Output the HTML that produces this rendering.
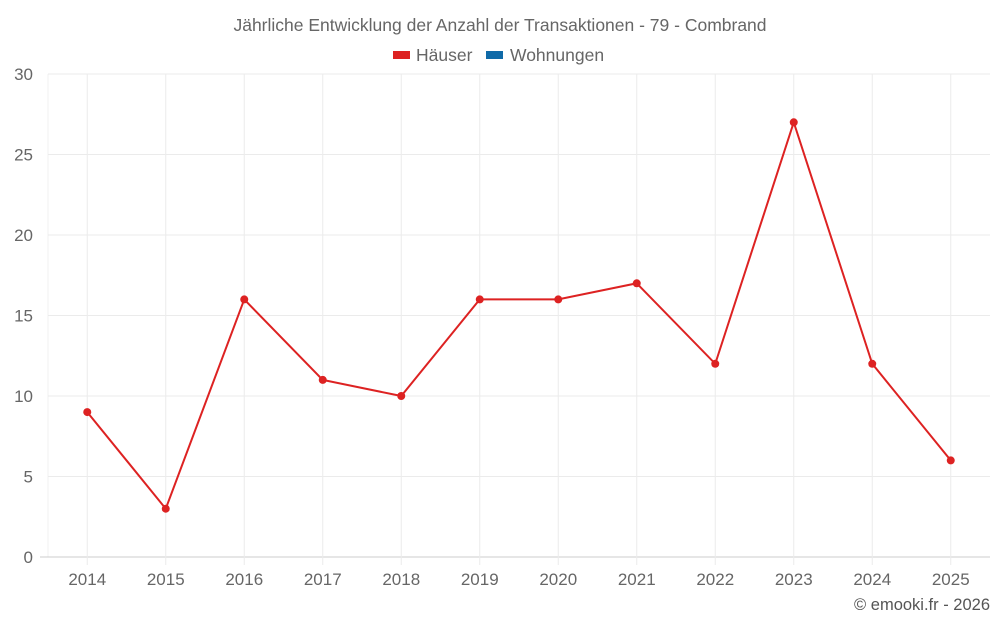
<!DOCTYPE html>
<html><head><meta charset="utf-8"><style>
body{margin:0;background:#fff;}
svg{display:block;font-family:"Liberation Sans",sans-serif;}
</style></head><body>
<svg id="c" width="1000" height="625">
<text x="500" y="31" text-anchor="middle" font-size="17.5" fill="#666">Jährliche Entwicklung der Anzahl der Transaktionen - 79 - Combrand</text>
<g>
<g><rect x="393" y="51" width="17" height="8" fill="#dd2222"/><text x="416" y="61" font-size="17.5" fill="#666">Häuser</text></g>
<g><rect x="486" y="51" width="17" height="8" fill="#0f6aa8"/><text x="510" y="61" font-size="17.5" fill="#666">Wohnungen</text></g>
</g>
<g id="grid"></g><g id="axes"></g><g id="marks"></g>
<text x="990" y="610" text-anchor="end" font-size="16.5" fill="#555">© emooki.fr - 2026</text>
</svg>
<script>
const categories=["2014","2015","2016","2017","2018","2019","2020","2021","2022","2023","2024","2025"];
const haeuser=[9,3,16,11,10,16,16,17,12,27,12,6];
const wohnungen=[];
const yTicks=[0,5,10,15,20,25,30];
const L=48,R=990,T=74,B=557,yMax=30;
const bw=(R-L)/categories.length;
const x=i=>L+bw*(i+0.5);
const y=v=>B-(v/yMax)*(B-T);
const ns="http://www.w3.org/2000/svg";
function mk(p,t,a){const e=document.createElementNS(ns,t);for(const k in a)e.setAttribute(k,a[k]);p.appendChild(e);return e;}
const g=document.getElementById('grid'),ax=document.getElementById('axes'),m=document.getElementById('marks');
const le=mk(g,'line',{x1:L,x2:L,y1:T,y2:B,stroke:'#f0f0f0'});


yTicks.forEach(v=>{
 const l=mk(g,'line',{x1:v===0?40:L,x2:R,y1:y(v),y2:y(v),stroke:v===0?'#ccc':'#ebebeb'});
 
 
 const t=mk(ax,'text',{x:33,y:y(v)+6,'text-anchor':'end','font-size':17,fill:'#666'});t.textContent=v;
 
 
});
categories.forEach((c,i)=>{
 const l=mk(g,'line',{x1:x(i),x2:x(i),y1:T,y2:565,stroke:'#ececec'});
 
 
 const t=mk(ax,'text',{x:x(i),y:585,'text-anchor':'middle','font-size':17,fill:'#666'});t.textContent=c;
 
 
});
const pl=mk(m,'polyline',{points:haeuser.map((v,i)=>x(i)+','+y(v)).join(' '),fill:'none',stroke:'#dd2222','stroke-width':2});


haeuser.forEach((v,i)=>{
 const c=mk(m,'circle',{cx:x(i),cy:y(v),r:4,fill:'#dd2222'});
 
 
});
</script>
</body></html>
